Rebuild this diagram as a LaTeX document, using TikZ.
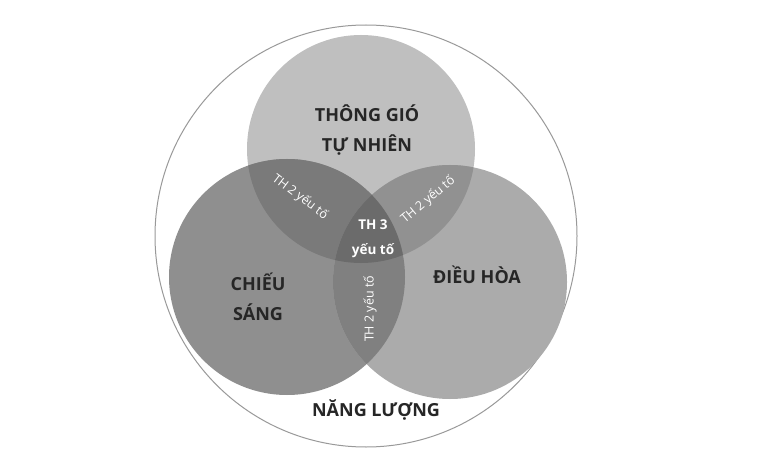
\documentclass[tikz,border=0pt]{standalone}
\usepackage{fontspec}
\setmainfont{Open Sans}
\begin{document}
\begin{tikzpicture}[x=1pt,y=-1pt,
  big/.style={font=\bfseries\fontsize{18}{30}\selectfont,text=black!85,align=center},
  small/.style={font=\fontsize{12.5}{14}\selectfont,text=white},
  mid/.style={font=\bfseries\fontsize{13.5}{25}\selectfont,text=white,align=center}]
\useasboundingbox (0,0) rectangle (768,457);
\fill[white] (0,0) rectangle (768,457);
\draw[black!40,line width=1pt] (366,236) circle (211);
\def\T{(361,149) circle (114)}
\def\L{(287,277) circle (118)}
\def\R{(450,282) circle (117)}
\fill[fill=black!25] \T;
\fill[fill=black!44] \L;
\fill[fill=black!33] \R;
\begin{scope}\clip \T; \fill[black!52] \L; \fill[black!43] \R; \end{scope}
\begin{scope}\clip \L; \fill[black!50] \R; \end{scope}
\begin{scope}\clip \T; \clip \L; \fill[black!58] \R; \end{scope}
\node[big] (tg) at (367,130) {THÔNG GIÓ\\TỰ NHIÊN};
\node[big] (cs) at (258,297) {CHIẾU\\SÁNG};
\node[big] (dh) at (477,275) {ĐIỀU HÒA};
\node[big] (nl) at (376,410) {NĂNG LƯỢNG};
\node[mid] (th3) at (373,239) {TH 3\\yếu tố};
\node[small,rotate=-37] (a) at (300,197) {TH 2 yếu tố};
\node[small,rotate=40] (b) at (428,200) {TH 2 yếu tố};
\node[small,rotate=90] (c) at (370,309) {TH 2 yếu tố};
\end{tikzpicture}
\end{document}
